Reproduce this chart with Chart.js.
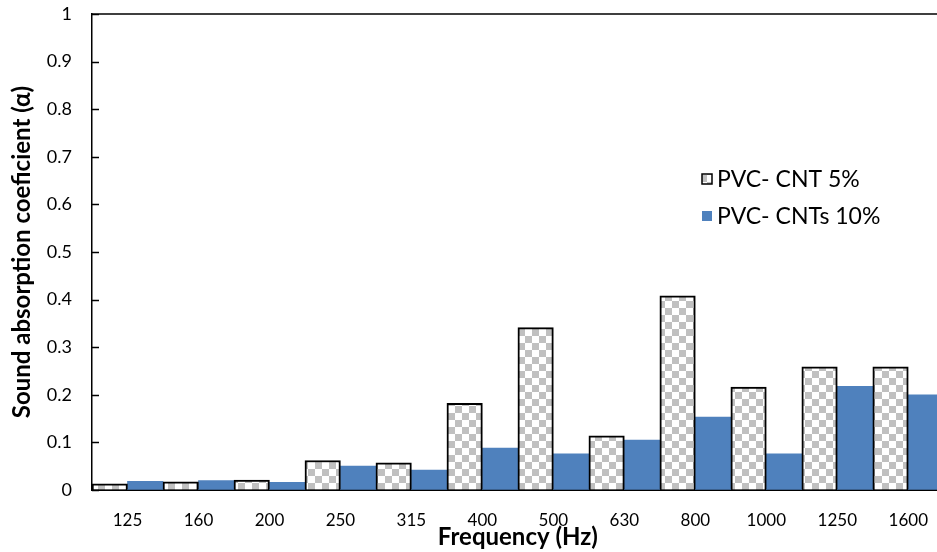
<!DOCTYPE html>
<html>
<head>
<meta charset="utf-8">
<script src="https://cdn.jsdelivr.net/npm/chart.js@4.4.1/dist/chart.umd.min.js"></script>
<style>
  html, body { margin: 0; padding: 0; background: #fff; overflow: hidden; }
  #wrap { width: 948px; height: 552px; }
</style>
</head>
<body>
<div id="wrap"><canvas id="absorptionChart" width="948" height="552"></canvas></div>
<script>
// Sound absorption coefficient per frequency band
var freqLabels = ["125", "160", "200", "250", "315", "400", "500", "630", "800", "1000", "1250", "1600"];
var cnt5Data = [0.013, 0.017, 0.021, 0.062, 0.057, 0.182, 0.341, 0.114, 0.408, 0.216, 0.259, 0.259];
var cnt10Data = [0.018, 0.020, 0.016, 0.050, 0.042, 0.088, 0.076, 0.105, 0.153, 0.076, 0.218, 0.200];
var seriesNames = ["PVC- CNT 5%", "PVC- CNTs 10%"];
var yTicks = [0, 0.1, 0.2, 0.3, 0.4, 0.5, 0.6, 0.7, 0.8, 0.9, 1];

var blue = "#4f81bd";
var fontFamily = "Lato, 'Open Sans', sans-serif";

// grey / white checkerboard fill
function makeChecker(size) {
    var c = document.createElement("canvas");
    c.width = size * 2;
    c.height = size * 2;
    var g = c.getContext("2d");
    g.fillStyle = "#ffffff";
    g.fillRect(0, 0, size * 2, size * 2);
    g.fillStyle = "#c0c0c0";
    g.fillRect(size, 0, size, size);
    g.fillRect(0, size, size, size);
    return document.getElementById("absorptionChart").getContext("2d").createPattern(c, "repeat");
}
var checker = makeChecker(7);

// plot frame, inward y ticks and the legend inside the plot area
var framePlugin = {
    id: "frame",
    afterDraw: function (chart) {
        var ctx = chart.ctx;
        var a = chart.chartArea;
        var yScale = chart.scales.y;
        ctx.save();
        ctx.strokeStyle = "#000";
        ctx.lineWidth = 1.5;
        ctx.beginPath();
        ctx.moveTo(a.left, a.top);
        ctx.lineTo(a.right, a.top);
        ctx.lineTo(a.right, a.bottom);
        yTicks.forEach(function (v) {
            var py = Math.round(yScale.getPixelForValue(v)) + 0.5;
            ctx.moveTo(a.left, py);
            ctx.lineTo(a.left + 7, py);
        });
        ctx.stroke();

        var items = chart.data.datasets;
        var x = 702, y0 = 179, step = 37;
        ctx.font = "23px " + fontFamily;
        ctx.textBaseline = "middle";
        items.forEach(function (ds, i) {
            var y = y0 + i * step;
            ctx.fillStyle = ds.backgroundColor;
            ctx.fillRect(x, y - 5, 10, 10);
            if (ds.borderWidth) {
                ctx.strokeStyle = "#000";
                ctx.lineWidth = 1.5;
                ctx.strokeRect(x, y - 5, 10, 10);
            }
            ctx.fillStyle = "#000";
            ctx.fillText(ds.label, x + 15, y + 1);
        });
        ctx.restore();
    }
};

new Chart("absorptionChart", {
    type: "bar",
    data: {
        labels: freqLabels,
        datasets: [{
            label: seriesNames[0],
            data: cnt5Data,
            backgroundColor: checker,
            borderColor: "#000",
            borderWidth: 2
        }, {
            label: seriesNames[1],
            data: cnt10Data,
            backgroundColor: blue,
            borderWidth: 0
        }]
    },
    options: {
        responsive: false,
        animation: false,
        layout: { padding: { top: 14, right: 0, bottom: 0, left: 0 } },
        datasets: { bar: { categoryPercentage: 1, barPercentage: 1 } },
        plugins: {
            legend: { display: false },
            title: { display: false },
            tooltip: { enabled: false }
        },
        scales: {
            x: {
                afterFit: function (s) { s.height = 62; },
                grid: { display: false, drawTicks: false },
                border: { display: true, color: "#000", width: 2 },
                ticks: { color: "#000", padding: 20, font: { family: fontFamily, size: 17 } },
                title: {
                    display: true,
                    text: "Frequency (Hz)",
                    color: "#000",
                    padding: { top: 0, bottom: 0 },
                    font: { family: fontFamily, size: 24, weight: "bold" }
                }
            },
            y: {
                min: 0,
                max: 1,
                afterFit: function (s) { s.width = 92; },
                // outer tick marks are invisible; they only space the labels off the axis
                grid: { drawOnChartArea: false, drawTicks: true, tickLength: 20, color: "rgba(0,0,0,0)" },
                border: { display: true, color: "#000", width: 1.5 },
                afterBuildTicks: function (s) {
                    s.ticks = yTicks.map(function (v) { return { value: v }; });
                },
                ticks: {
                    color: "#000",
                    padding: 0,
                    font: { family: fontFamily, size: 18 },
                    callback: function (v) { return String(v); }
                },
                title: {
                    display: true,
                    text: "Sound absorption coeficient (α)",
                    color: "#000",
                    padding: { top: 8, bottom: 0 },
                    font: { family: fontFamily, size: 24, weight: "bold" }
                }
            }
        }
    },
    plugins: [framePlugin]
});
</script>
</body>
</html>
